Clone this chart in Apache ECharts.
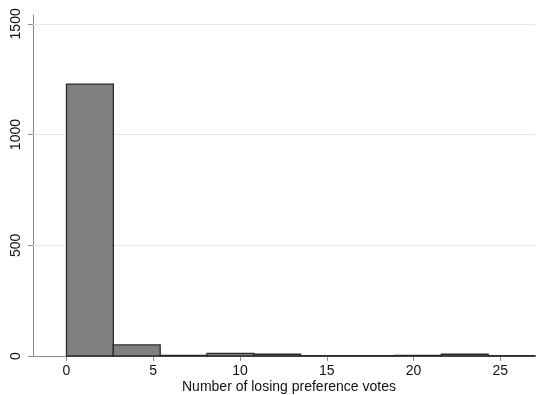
<!DOCTYPE html>
<html>
<head>
<meta charset="utf-8">
<script src="https://cdn.jsdelivr.net/npm/echarts@6/dist/echarts.min.js"></script>
<style>html,body{margin:0;padding:0;background:#fff}#c{width:536px;height:395px}</style>
</head>
<body>
<div id="c"></div>
<script>
// Histogram bins (start, end) and frequencies
const binStarts = [0, 2.7, 5.4, 8.1, 10.8, 13.5, 16.2, 18.9, 21.6, 24.3];
const binEnds   = [2.7, 5.4, 8.1, 10.8, 13.5, 16.2, 18.9, 21.6, 24.3, 27];
const counts    = [1228, 50, 3, 12, 8, 2, 2, 3, 8, 2];
const xTicks = [0, 5, 10, 15, 20, 25];
const yTicks = [0, 500, 1000, 1500];
const xTitle = 'Number of losing preference votes';

const font = 'Liberation Sans, Arial, Helvetica, sans-serif';
const data = binStarts.map((s, i) => [s, binEnds[i], counts[i]]);

const chart = echarts.init(document.getElementById('c'));
chart.setOption({
  animation: false,
  backgroundColor: '#fff',
  grid: {left: 33, right: 1, top: 15, bottom: 39},
  xAxis: {
    type: 'value', min: -1.93, max: 27,
    axisLine: {show: true, onZero: false, lineStyle: {color: '#8a8a8a', width: 1}},
    axisTick: {show: true, length: 5, lineStyle: {color: '#8a8a8a'}, customValues: xTicks},
    axisLabel: {color: '#111', fontSize: 14, fontFamily: font, margin: 8, customValues: xTicks,
                formatter: v => String(v)},
    splitLine: {show: false}
  },
  yAxis: {
    type: 'value', min: 0, max: 1540,
    axisLine: {show: true, onZero: false, lineStyle: {color: '#8a8a8a', width: 1}},
    axisTick: {show: true, length: 5, lineStyle: {color: '#8a8a8a'}, customValues: yTicks},
    axisLabel: {color: '#111', fontSize: 14, fontFamily: font, margin: 10, rotate: 90, customValues: yTicks,
                formatter: v => String(v)},
    splitLine: {show: false}
  },
  graphic: [{
    type: 'text', left: 182, top: 380,
    style: {text: xTitle, fill: '#111', font: '14px ' + font}
  }],
  series: [{
    type: 'line', data: [], silent: true, z: 1,
    markLine: {
      silent: true, symbol: 'none', label: {show: false}, z: 1,
      lineStyle: {color: '#e6e6e6', type: 'solid', width: 1},
      data: yTicks.filter(v => v > 0).map(v => ({yAxis: v}))
    }
  }, {
    type: 'custom',
    renderItem: function (params, api) {
      const p0 = api.coord([api.value(0), api.value(2)]);
      const p1 = api.coord([api.value(1), 0]);
      return {
        type: 'rect',
        shape: {x: p0[0], y: p0[1], width: p1[0] - p0[0], height: p1[1] - p0[1]},
        style: {fill: '#808080', stroke: '#2a2a2a', lineWidth: 1.3}
      };
    },
    encode: {x: [0, 1], y: 2},
    data: data,
    z: 10
  }]
});
</script>
</body>
</html>
